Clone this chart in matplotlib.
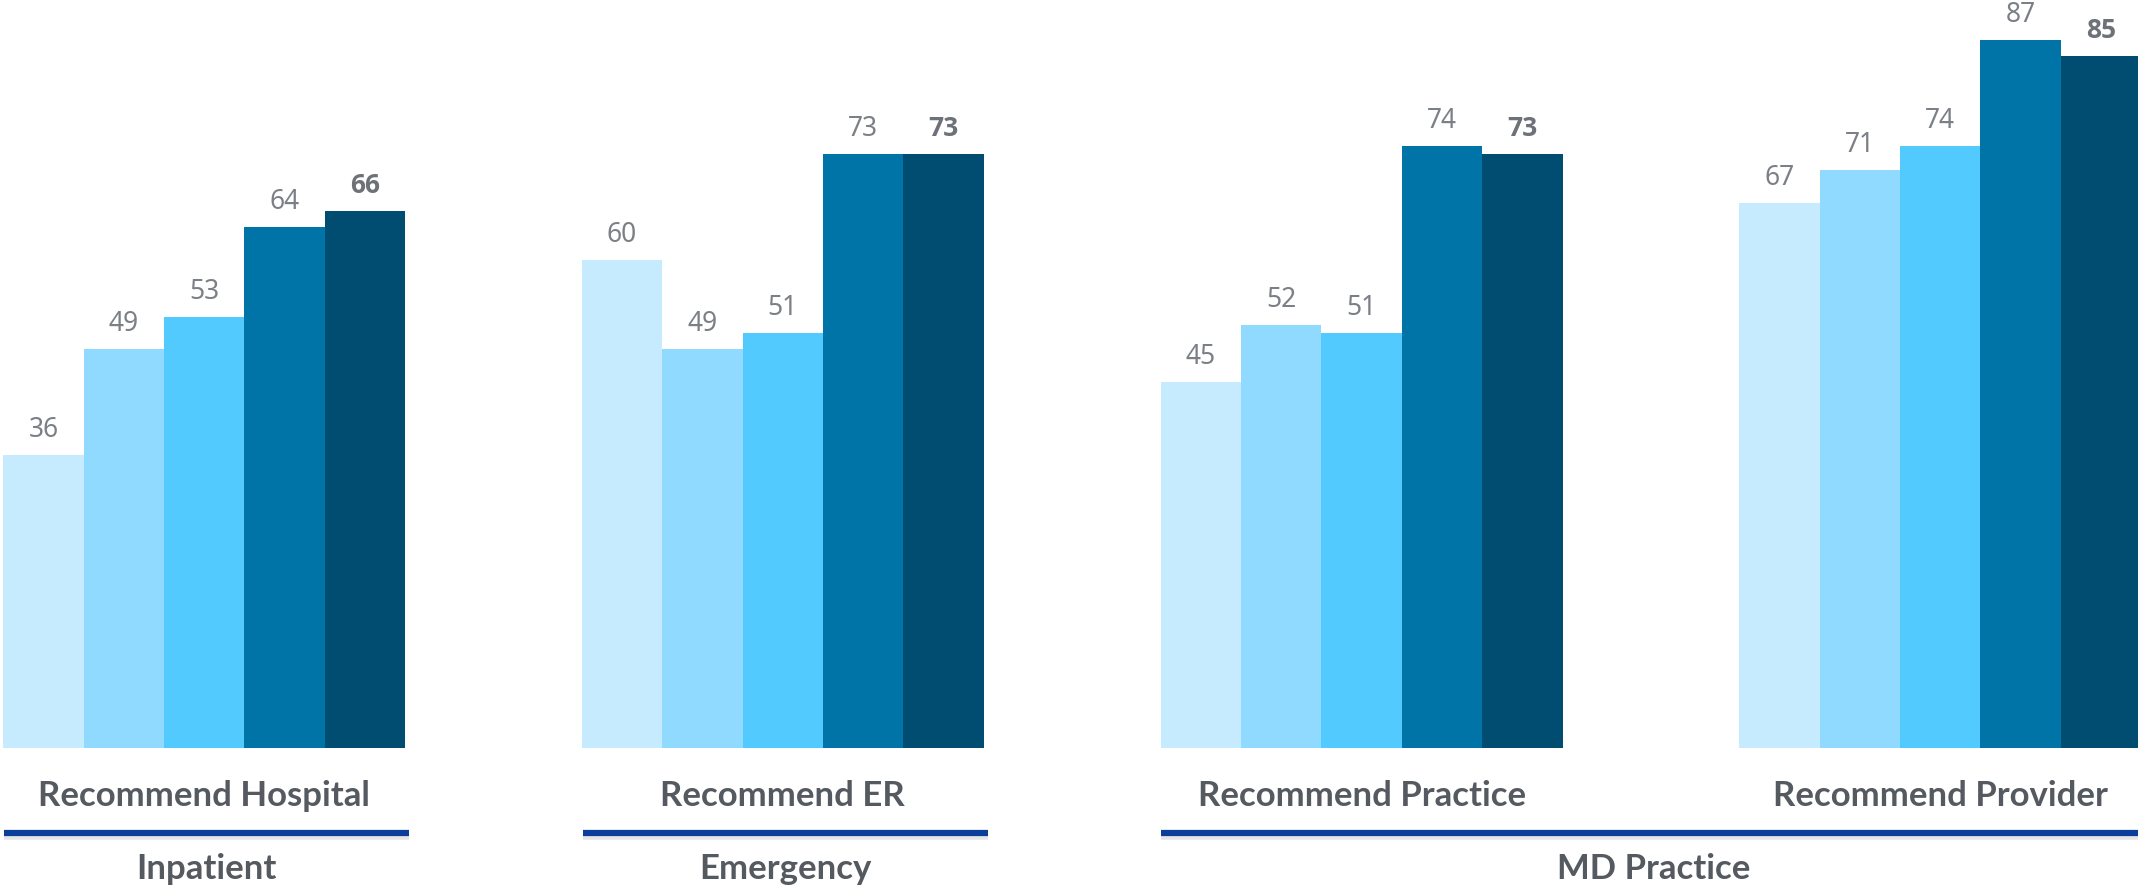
import matplotlib
matplotlib.use("Agg")
import matplotlib.pyplot as plt
import matplotlib.transforms as mtransforms

# Chart data
metrics = ["Recommend Hospital", "Recommend ER", "Recommend Practice", "Recommend Provider"]
hospital = [36, 49, 53, 64, 66]
er = [60, 49, 51, 73, 73]
practice = [45, 52, 51, 74, 73]
provider = [67, 71, 74, 87, 85]
sections = ["Inpatient", "Emergency", "MD Practice"]
section_groups = [[0], [1], [2, 3]]

values = [hospital, er, practice, provider]
colors = ["#c6ebfe", "#8fdafe", "#53cafe", "#0073a7", "#004d71"]

# Layout
pitch = 7.2          # group spacing in bar widths
num_color = "#7b7f86"
label_color = "#555960"
line_color = "#0b3d9b"

fig = plt.figure(figsize=(21.38, 8.86), dpi=100)
ax = fig.add_axes([0, (886 - 748) / 886, 1, 748 / 886])
ax.set_xlim(-0.04, 26.56)
ax.set_ylim(0, 91.9)
ax.axis("off")

for g, vals in enumerate(values):
    xs = [g * pitch + i for i in range(len(vals))]
    ax.bar(xs, vals, width=1.0, align="edge", color=colors, linewidth=0)
    for i, (x, v) in enumerate(zip(xs, vals)):
        last = i == len(vals) - 1
        ax.annotate(str(v), (x + 0.5, v), xytext=(0, 13), textcoords="offset points",
                    ha="center", va="baseline", fontsize=19,
                    family="Open Sans" if last else "Noto Sans",
                    color="#6d7178" if last else num_color,
                    fontweight="bold" if last else "normal")

trans = mtransforms.blended_transform_factory(ax.transData, fig.transFigure)

# Metric names under each group
for g, name in enumerate(metrics):
    ax.text(g * pitch + 2.5, (886 - 796) / 886, name, transform=trans,
            ha="center", va="center", fontsize=25, family="Lato",
            fontweight="bold", color=label_color)

# Section underline and names
for sec, groups in zip(sections, section_groups):
    x0 = groups[0] * pitch + 0.01
    x1 = groups[-1] * pitch + 5.05
    y = (886 - 833) / 886
    ax.plot([x0, x1], [y - 0.005, y - 0.005], transform=trans, color="#cccccc",
            lw=4, alpha=0.5, clip_on=False, solid_capstyle="butt")
    ax.plot([x0, x1], [y, y], transform=trans, color=line_color,
            lw=4.5, clip_on=False, solid_capstyle="butt")
    ax.text((x0 + x1) / 2, (886 - 869) / 886, sec, transform=trans,
            ha="center", va="center", fontsize=25, family="Lato",
            fontweight="bold", color=label_color)

fig.savefig("out.png", dpi=100, facecolor="white")
